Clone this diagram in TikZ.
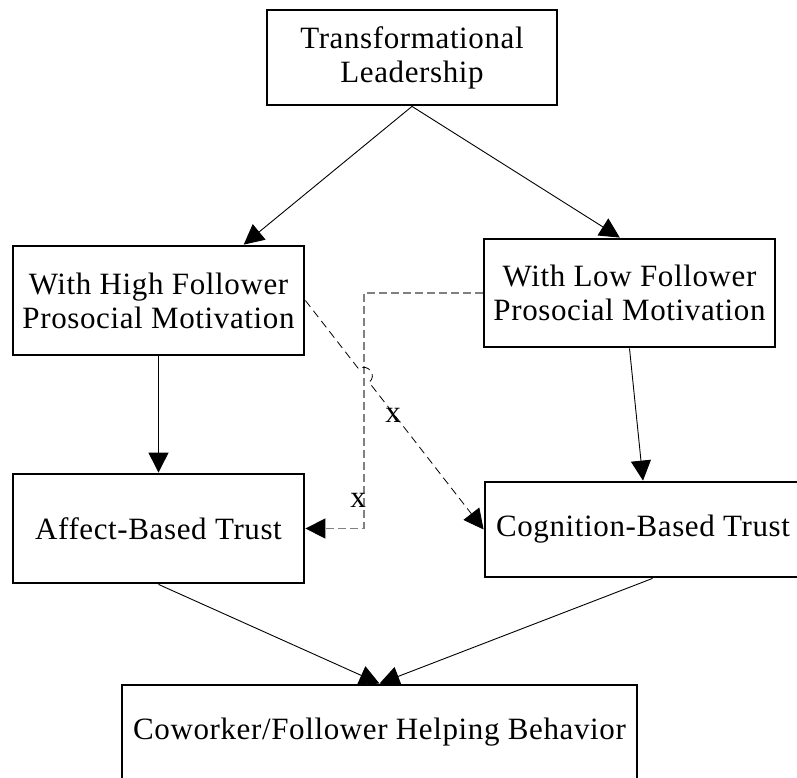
\documentclass[tikz,border=0pt]{standalone}
\usepackage{fontspec}
\setmainfont[LetterSpace=2.0]{Liberation Serif}
\usetikzlibrary{arrows.meta,calc}
\begin{document}
\begin{tikzpicture}[x=1pt,y=-1pt,
  box/.style={draw,line width=2.8pt,fill=white,align=center,inner sep=0pt,
    font=\fontsize{31}{34}\selectfont},
  lbl/.style={inner sep=0pt,font=\fontsize{31}{34}\selectfont},
  tip/.style={-{Triangle[length=20pt,width=20pt,color=black]}},
  link/.style={tip,line width=0.9pt},
  cross/.style={tip,line width=0.8pt,dash pattern=on 8pt off 5pt},
  detour/.style={tip,line width=1.3pt,draw=black!50,dash pattern=on 8pt off 4pt}]
\useasboundingbox (0,0) rectangle (797,778);

% boxes
\node[box,minimum width=290pt,minimum height=95pt] (tl) at (412,57.5)
  {Transformational\\Leadership};
\node[box,minimum width=291pt,minimum height=109pt] (lm) at (158.5,300.5)
  {With High Follower\\Prosocial Motivation};
\node[box,minimum width=291pt,minimum height=108pt] (rm) at (629.5,293)
  {With Low Follower\\Prosocial Motivation};
\node[box,minimum width=291pt,minimum height=109pt] (ll) at (158.5,528.5)
  {Affect-Based Trust};
\node[box,minimum width=316pt,minimum height=95pt] (rl) at (643,529.5)
  {Cognition-Based Trust};
\node[box,minimum width=515pt,minimum height=95pt] (bt) at (379.5,732.5)
  {Coworker/Follower Helping Behavior};

% solid links
\draw[link] (tl.south) -- ($(lm.north west)!0.79!(lm.north east)$);
\draw[link] (tl.south) -- ($(rm.north west)!0.467!(rm.north east)$);
\draw[link] (lm.south) -- (ll.north);
\draw[link] (rm.south) -- (rl.north);
\draw[link] (ll.south) -- (bt.north);
\draw[link] ($(rl.south west)!0.53!(rl.south east)$) -- (bt.north);

% gray dashed detour with its label
\coordinate (j) at (364,0);
\draw[detour] (rm.west) -- (rm.west -| j) -- (ll.east -| j) -- (ll.east);
\node[lbl] (x1) at (358,500) {x};

% dashed diagonal hopping over the detour
\coordinate (hs) at ($(lm.east)!0.3000!(rl.west)$);
\coordinate (he) at ($(lm.east)!0.3574!(rl.west)$);
\draw[cross] (lm.east) -- (hs)
  .. controls ($(hs)!11pt!90:(he)$) and ($(he)!11pt!-90:(hs)$) .. (he)
  -- (rl.west);
\node[lbl] (x2) at (393,415) {x};
\end{tikzpicture}
\end{document}
